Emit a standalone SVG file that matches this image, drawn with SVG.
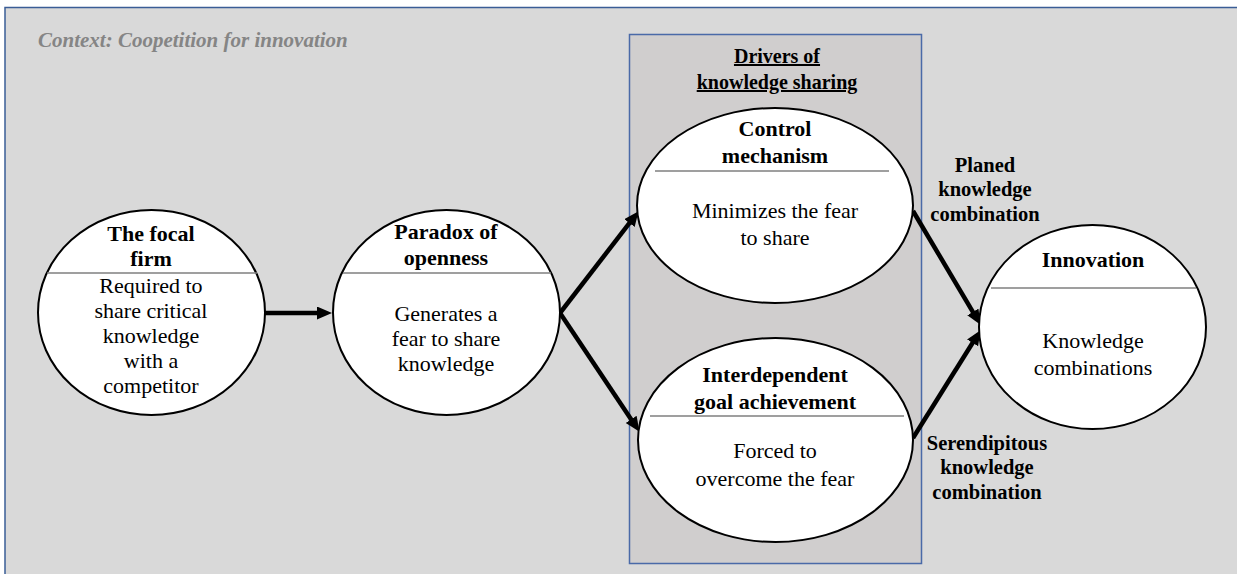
<svg xmlns="http://www.w3.org/2000/svg" width="1237" height="574" viewBox="0 0 1237 574">
  <style>
    .frame { fill: #d9d9d9; stroke: #3a5d96; stroke-width: 1.5; }
    .group { fill: #d0cece; stroke: #4a6aa8; stroke-width: 1.5; }
    .node { fill: #ffffff; stroke: #000000; stroke-width: 2; }
    .div { stroke: #7f7f7f; stroke-width: 1.5; }
    text { font-family: 'Liberation Serif', 'Times New Roman', serif; fill: #000; }
    .ctx { font-style: italic; font-weight: bold; font-size: 21px; fill: #858585; }
    .hd { font-weight: bold; font-size: 20px; text-decoration: underline; }
    .title { font-weight: bold; font-size: 22px; }
    .body { font-size: 22px; }
    .lbl { font-weight: bold; font-size: 20.5px; }
    .arrow { stroke: #000; stroke-width: 4.5; fill: none; marker-end: url(#head); }
  </style>
  <defs>
    <marker id="head" markerUnits="userSpaceOnUse" markerWidth="16" markerHeight="14" refX="4" refY="6.5" orient="auto">
      <path d="M0,0 L15,6.5 L0,13 z" fill="#000"/>
    </marker>
  </defs>

  <rect width="1237" height="574" fill="#ffffff"/>
  <!-- outer context frame -->
  <rect class="frame" x="5" y="7.5" width="1240" height="580"/>
  <text class="ctx" x="38" y="47">Context: Coopetition for innovation</text>

  <!-- drivers of knowledge sharing -->
  <g id="drivers">
    <rect class="group" x="629.5" y="34.5" width="292" height="529"/>
    <text class="hd" text-anchor="middle" x="777" y="63">Drivers of</text>
    <text class="hd" text-anchor="middle" x="777" y="89">knowledge sharing</text>
  </g>

  <g id="connectors">
    <line class="arrow" x1="265" y1="313" x2="321" y2="313"/>
    <line class="arrow" x1="560" y1="313" x2="631.9" y2="219.9"/>
    <line class="arrow" x1="560" y1="313" x2="633.4" y2="422.7"/>
    <line class="arrow" x1="913" y1="211" x2="974.9" y2="315.4"/>
    <line class="arrow" x1="913" y1="438" x2="974.7" y2="339.5"/>
    <text class="lbl" text-anchor="middle" x="985" y="172">Planed</text>
    <text class="lbl" text-anchor="middle" x="985" y="196">knowledge</text>
    <text class="lbl" text-anchor="middle" x="985" y="221">combination</text>
    <text class="lbl" text-anchor="middle" x="987" y="450">Serendipitous</text>
    <text class="lbl" text-anchor="middle" x="987" y="474">knowledge</text>
    <text class="lbl" text-anchor="middle" x="987" y="499">combination</text>
  </g>

  <g id="focal-firm">
    <ellipse class="node" cx="151.5" cy="312.5" rx="113.5" ry="102.5"/>
    <line class="div" x1="47" y1="273" x2="257" y2="273"/>
    <text class="title" text-anchor="middle" x="151" y="241">The focal</text>
    <text class="title" text-anchor="middle" x="151" y="266">firm</text>
    <text class="body" text-anchor="middle" x="151" y="293">Required to</text>
    <text class="body" text-anchor="middle" x="151" y="318">share critical</text>
    <text class="body" text-anchor="middle" x="151" y="343">knowledge</text>
    <text class="body" text-anchor="middle" x="151" y="368">with a</text>
    <text class="body" text-anchor="middle" x="151" y="393">competitor</text>
  </g>

  <g id="paradox">
    <ellipse class="node" cx="446.5" cy="312.5" rx="113.5" ry="102.5"/>
    <line class="div" x1="343" y1="273" x2="551" y2="273"/>
    <text class="title" text-anchor="middle" x="446" y="239">Paradox of</text>
    <text class="title" text-anchor="middle" x="446" y="265">openness</text>
    <text class="body" text-anchor="middle" x="446" y="321">Generates a</text>
    <text class="body" text-anchor="middle" x="446" y="346">fear to share</text>
    <text class="body" text-anchor="middle" x="446" y="371">knowledge</text>
  </g>

  <g id="control-mechanism">
    <ellipse class="node" cx="775" cy="205.5" rx="138" ry="97.5"/>
    <line class="div" x1="655" y1="171" x2="889" y2="171"/>
    <text class="title" text-anchor="middle" x="775" y="136">Control</text>
    <text class="title" text-anchor="middle" x="775" y="163">mechanism</text>
    <text class="body" text-anchor="middle" x="775" y="218">Minimizes the fear</text>
    <text class="body" text-anchor="middle" x="775" y="245">to share</text>
  </g>

  <g id="interdependent-goal">
    <ellipse class="node" cx="775.5" cy="440" rx="137.5" ry="102"/>
    <line class="div" x1="650" y1="416" x2="904" y2="416"/>
    <text class="title" text-anchor="middle" x="775" y="382">Interdependent</text>
    <text class="title" text-anchor="middle" x="775" y="409">goal achievement</text>
    <text class="body" text-anchor="middle" x="775" y="458">Forced to</text>
    <text class="body" text-anchor="middle" x="775" y="486">overcome the fear</text>
  </g>

  <g id="innovation">
    <ellipse class="node" cx="1092.5" cy="327" rx="113.5" ry="102"/>
    <line class="div" x1="991" y1="288" x2="1196" y2="288"/>
    <text class="title" text-anchor="middle" x="1093" y="267">Innovation</text>
    <text class="body" text-anchor="middle" x="1093" y="348">Knowledge</text>
    <text class="body" text-anchor="middle" x="1093" y="375">combinations</text>
  </g>
</svg>
